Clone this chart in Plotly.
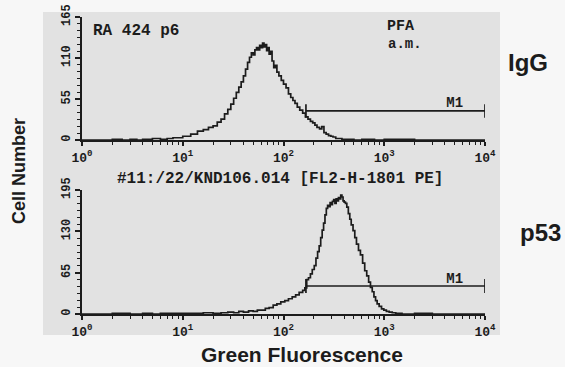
import plotly.graph_objects as go

# ---------------- data ----------------
igg_fl = [1, 1.5, 2, 2.5, 3, 3.5, 4, 5, 6, 7, 8, 9, 10, 12, 14, 16, 18, 20, 22, 24, 26, 28,
          30, 32, 34, 36, 38, 40, 42, 44, 46, 48, 50, 52, 54, 56, 58, 60, 62, 64, 66, 68,
          70, 72, 74, 77, 80, 83, 86, 90, 95, 100, 106, 112, 118, 124, 130, 137, 145, 155,
          165, 175, 185, 195, 205, 215, 228, 240, 252, 265, 280, 295, 310, 330, 350, 380,
          420, 500, 600, 800, 1000, 2000, 5000, 10000]
igg_count = [0, 0, 1, 0, 1, 0, 1, 2, 1, 2, 3, 3, 5, 8, 12, 14, 17, 19, 24, 28, 35, 41,
             48, 56, 64, 71, 78, 86, 95, 104, 111, 117, 114, 121, 124, 121, 127, 124, 130, 125, 128, 120,
             124, 115, 119, 106, 97, 100, 91, 86, 80, 75, 70, 62, 57, 53, 49, 44, 40, 36,
             31, 28, 25, 23, 20, 17, 15, 18, 10, 8, 6, 5, 4, 2, 2, 1,
             1, 0, 1, 0, 1, 0, 0, 0]

p53_fl = [1, 1.5, 2, 3, 4, 5, 6, 8, 10, 13, 16, 20, 24, 28, 32, 36, 40, 45, 50, 55, 60, 66,
          72, 79, 86, 94, 103, 112, 122, 132, 143, 155, 163, 170, 177, 185, 193, 202, 210,
          218, 226, 234, 242, 250, 258, 266, 274, 282, 290, 298, 306, 315, 324, 333, 342,
          351, 360, 370, 380, 390, 400, 412, 425, 440, 455, 470, 490, 510, 530, 555, 580,
          610, 640, 670, 700, 730, 760, 790, 820, 850, 890, 940, 990, 1050, 1120, 1200,
          1300, 1500, 2000, 3000, 10000]
p53_count = [0, 0, 1, 0, 1, 0, 1, 1, 1, 1, 2, 1, 2, 3, 2, 4, 3, 5, 4, 6, 6, 9,
             10, 14, 16, 19, 21, 24, 27, 30, 34, 37, 41, 54, 57, 63, 70, 76, 88,
             98, 107, 120, 132, 143, 156, 166, 171, 169, 175, 172, 177, 180, 174, 181, 178,
             183, 181, 187, 184, 178, 176, 174, 168, 158, 149, 140, 131, 120, 110, 100, 93,
             80, 68, 60, 50, 42, 35, 27, 21, 16, 12, 8, 6, 4, 3, 2,
             1, 0, 1, 0, 0]

# gates (M1): start fluorescence, end fluorescence, height (counts)
igg_gate = [167, 10000, 39]
p53_gate = [167, 10000, 44]

x_ticks = [1, 10, 100, 1000, 10000]
x_ticktext = ["10<sup>0</sup>", "10<sup>1</sup>", "10<sup>2</sup>", "10<sup>3</sup>", "10<sup>4</sup>"]
x_minor = [m * d for d in (1, 10, 100, 1000) for m in range(2, 10)]
igg_yticks = [0, 55, 110, 165]
p53_yticks = [0, 65, 130, 195]

# ---------------- layout helpers ----------------
W, H = 565, 367
def px(x):
    return x / W
def py(y):
    return 1 - y / H

INK = "#1c1c1c"
MONO = "Liberation Mono"
SANS = "Liberation Sans"

fig = go.Figure()

fig.add_trace(go.Scatter(x=igg_fl, y=igg_count, mode="lines", line=dict(color=INK, width=1.7, shape="hv"),
                         xaxis="x", yaxis="y", showlegend=False, hoverinfo="skip"))
fig.add_trace(go.Scatter(x=p53_fl, y=p53_count, mode="lines", line=dict(color=INK, width=1.7, shape="hv"),
                         xaxis="x2", yaxis="y2", showlegend=False, hoverinfo="skip"))

def gate_trace(g, xa, ya, half):
    s, e, h = g
    return go.Scatter(x=[s, s, None, s, e, None, e, e], y=[h - half, h + half, None, h, h, None, h - half, h + half],
                      mode="lines", line=dict(color=INK, width=1.7), xaxis=xa, yaxis=ya,
                      showlegend=False, hoverinfo="skip")

fig.add_trace(gate_trace(igg_gate, "x", "y", 9))
fig.add_trace(gate_trace(p53_gate, "x2", "y2", 11))
fig.add_trace(go.Scatter(x=[5000], y=[igg_gate[2]], mode="text", text=["<b>M1</b>"], textposition="top center",
                         textfont=dict(family=MONO, size=14, color=INK), xaxis="x", yaxis="y",
                         showlegend=False, hoverinfo="skip"))
fig.add_trace(go.Scatter(x=[5000], y=[p53_gate[2]], mode="text", text=["<b>M1</b>"], textposition="top center",
                         textfont=dict(family=MONO, size=14, color=INK), xaxis="x2", yaxis="y2",
                         showlegend=False, hoverinfo="skip"))

xdom = [px(82), px(485)]
common_x = dict(type="log", range=[0, 4], domain=xdom, showline=True, linecolor=INK, linewidth=2,
                showgrid=False, zeroline=False, ticks="outside", ticklen=4, tickwidth=1.5, tickcolor=INK,
                tickvals=x_ticks, ticktext=x_ticktext,
                tickfont=dict(family=MONO, size=13, color=INK, weight="bold"),
                minor=dict(tickvals=x_minor, ticks="outside", ticklen=3, tickwidth=1.2, tickcolor=INK))
common_y = dict(showline=True, linecolor=INK, linewidth=2, showgrid=False, zeroline=False,
                ticks="outside", ticklen=5, tickwidth=1.5, tickcolor=INK, tickangle=-90,
                tickfont=dict(family=MONO, size=12, color=INK, weight="bold"))

fig.update_layout(
    width=W, height=H, margin=dict(l=0, r=0, t=0, b=0, autoexpand=False),
    paper_bgcolor="#f7f7f7", plot_bgcolor="rgba(0,0,0,0)",
    xaxis=dict(**common_x, anchor="y"),
    yaxis=dict(**common_y, range=[0, 165], domain=[py(140), py(17)], anchor="x",
               tickvals=igg_yticks, minor=dict(dtick=55 / 6, ticks="outside", ticklen=3, tickwidth=1.2, tickcolor=INK)),
    xaxis2=dict(**common_x, anchor="y2"),
    yaxis2=dict(**common_y, range=[0, 195], domain=[py(314), py(190)], anchor="x2",
                tickvals=p53_yticks, minor=dict(dtick=65 / 6, ticks="outside", ticklen=3, tickwidth=1.2, tickcolor=INK)),
    shapes=[dict(type="rect", xref="paper", yref="paper", x0=px(43), x1=px(500), y0=py(335), y1=py(12),
                 fillcolor="#e2e2e2", line=dict(width=0), layer="below")],
)

def note(text, x, y, size, family=MONO, bold=False, angle=0, yanchor="middle"):
    t = f"<b>{text}</b>" if bold else text
    fig.add_annotation(text=t, x=px(x), y=py(y), xref="paper", yref="paper", showarrow=False,
                       xanchor="center", yanchor=yanchor, textangle=angle,
                       font=dict(family=family, size=size, color=INK))

note("RA 424 p6", 136, 31, 16, bold=True)
note("PFA", 400, 27, 15, bold=True)
note("a.m.", 405, 44, 14, bold=True)
note("#11:/22/KND106.014 [FL2-H-1801 PE]", 280, 179, 16, bold=True)
note("IgG", 528, 63, 24, SANS, True)
note("p53", 540, 232, 24, SANS, True)
note("Cell Number", 19, 171, 18, SANS, True, -90)
note("Green Fluorescence", 302, 368, 21, SANS, True, yanchor="bottom")

fig.write_html("out.html", config={"displayModeBar": False},
               post_script="document.body.style.margin='0';document.body.style.background='#f7f7f7';")
